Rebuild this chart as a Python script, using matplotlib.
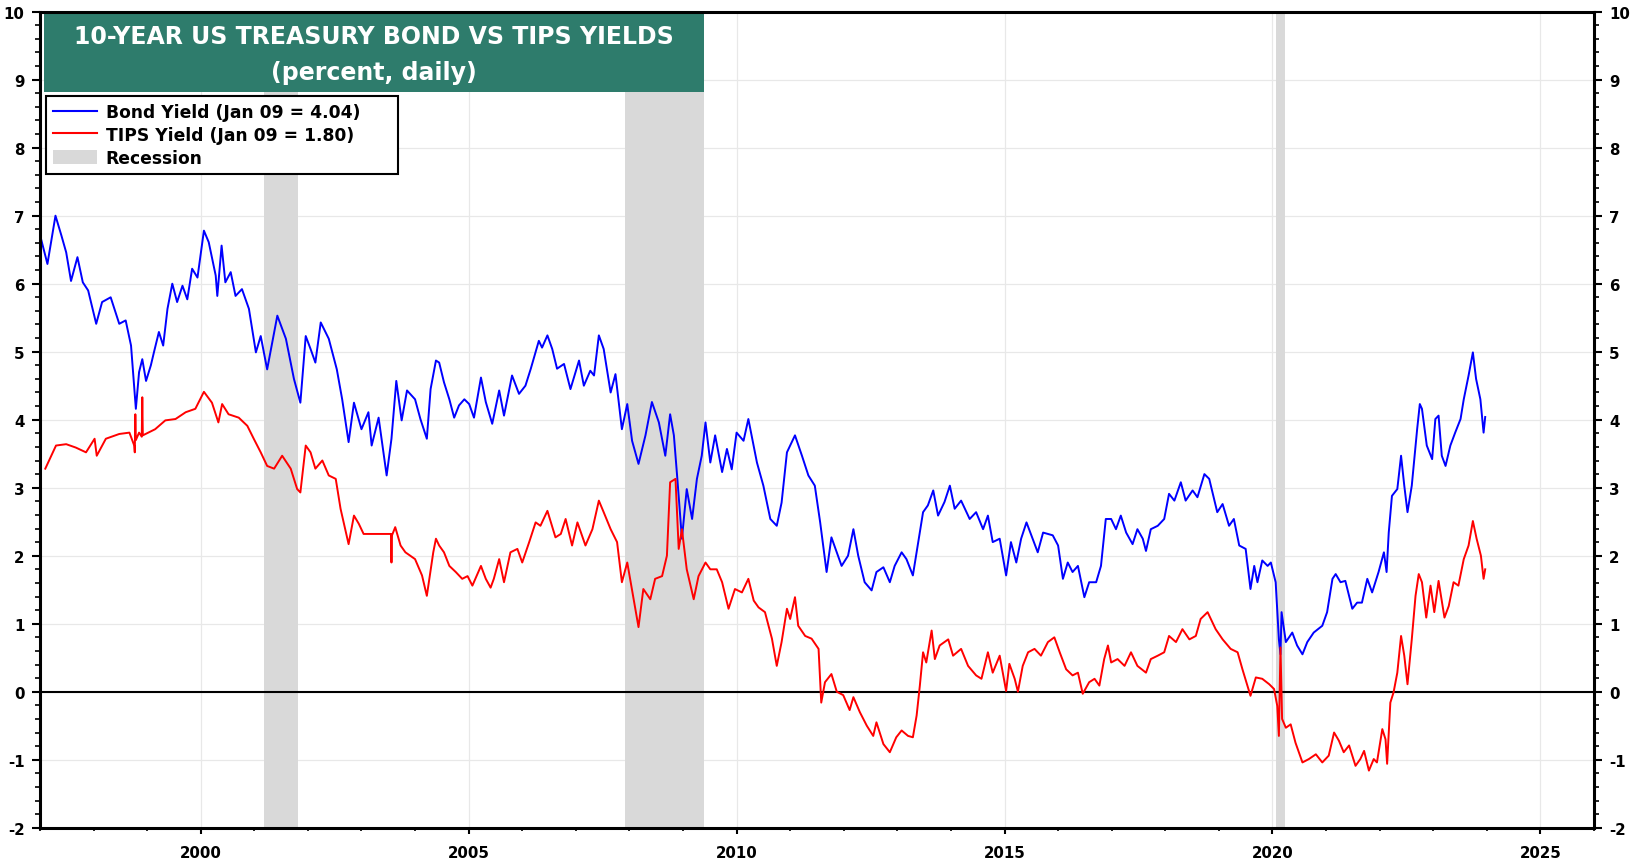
import matplotlib
matplotlib.use('Agg')
import matplotlib.pyplot as plt
from matplotlib.patches import Rectangle, Patch
from matplotlib.lines import Line2D
from matplotlib.ticker import FixedLocator, MultipleLocator

plt.rcParams['font.family'] = ['DejaVu Sans']
plt.rcParams['font.weight'] = 'bold'
plt.rcParams['axes.unicode_minus'] = False

# 10-year bond yield (decimal year, percent)
bond_years = [
    1997.02, 1997.14, 1997.29, 1997.40, 1997.49, 1997.58, 1997.70, 1997.80, 1997.90, 1998.05,
    1998.16, 1998.32, 1998.48, 1998.60, 1998.70, 1998.79, 1998.85, 1998.91, 1998.98, 1999.07,
    1999.13, 1999.22, 1999.30, 1999.38, 1999.47, 1999.56, 1999.66, 1999.75, 1999.84, 1999.94,
    2000.06, 2000.15, 2000.28, 2000.31, 2000.39, 2000.46, 2000.56, 2000.65, 2000.77, 2000.90,
    2001.03, 2001.12, 2001.24, 2001.43, 2001.59, 2001.74, 2001.86, 2001.96, 2002.05, 2002.14,
    2002.24, 2002.39, 2002.54, 2002.64, 2002.76, 2002.86, 2003.00, 2003.13, 2003.19, 2003.32,
    2003.47, 2003.56, 2003.65, 2003.75, 2003.85, 2004.00, 2004.10, 2004.22, 2004.29, 2004.39,
    2004.45, 2004.54, 2004.64, 2004.73, 2004.82, 2004.92, 2005.01, 2005.10, 2005.23, 2005.32,
    2005.44, 2005.57, 2005.66, 2005.81, 2005.94, 2006.06, 2006.16, 2006.31, 2006.37, 2006.47,
    2006.56, 2006.65, 2006.78, 2006.90, 2007.06, 2007.15, 2007.27, 2007.34, 2007.43, 2007.52,
    2007.65, 2007.74, 2007.86, 2007.96, 2008.05, 2008.17, 2008.30, 2008.42, 2008.55, 2008.67,
    2008.76, 2008.83, 2008.89, 2008.98, 2009.07, 2009.17, 2009.26, 2009.35, 2009.42, 2009.51,
    2009.60, 2009.73, 2009.82, 2009.91, 2010.00, 2010.13, 2010.22, 2010.38, 2010.50, 2010.63,
    2010.75, 2010.84, 2010.94, 2011.09, 2011.22, 2011.34, 2011.46, 2011.56, 2011.68, 2011.77,
    2011.87, 2011.96, 2012.08, 2012.18, 2012.27, 2012.39, 2012.52, 2012.61, 2012.74, 2012.86,
    2012.95, 2013.08, 2013.17, 2013.29, 2013.39, 2013.48, 2013.57, 2013.67, 2013.76, 2013.88,
    2013.98, 2014.07, 2014.19, 2014.35, 2014.47, 2014.60, 2014.69, 2014.78, 2014.91, 2015.03,
    2015.12, 2015.22, 2015.31, 2015.41, 2015.50, 2015.62, 2015.72, 2015.81, 2015.90, 2016.00,
    2016.09, 2016.18, 2016.27, 2016.37, 2016.49, 2016.58, 2016.71, 2016.80, 2016.89, 2016.99,
    2017.08, 2017.17, 2017.27, 2017.39, 2017.48, 2017.58, 2017.64, 2017.73, 2017.86, 2017.98,
    2018.07, 2018.17, 2018.29, 2018.38, 2018.51, 2018.60, 2018.73, 2018.82, 2018.97, 2019.07,
    2019.19, 2019.28, 2019.38, 2019.50, 2019.59, 2019.66, 2019.72, 2019.81, 2019.91, 2019.97,
    2020.06, 2020.12, 2020.15, 2020.17, 2020.25, 2020.37, 2020.46, 2020.56, 2020.65, 2020.77,
    2020.93, 2021.02, 2021.12, 2021.18, 2021.27, 2021.36, 2021.49, 2021.58, 2021.67, 2021.77,
    2021.86, 2021.92, 2021.98, 2022.08, 2022.13, 2022.17, 2022.23, 2022.33, 2022.40, 2022.46,
    2022.52, 2022.60, 2022.70, 2022.75, 2022.79, 2022.88, 2022.98, 2023.04, 2023.10, 2023.16,
    2023.23, 2023.32, 2023.41, 2023.51, 2023.57, 2023.66, 2023.74, 2023.80, 2023.88, 2023.94,
    2023.97,
]
bond_yield = [
    6.66, 6.29, 7.00, 6.71, 6.46, 6.04, 6.39, 6.02, 5.90, 5.41,
    5.73, 5.80, 5.41, 5.46, 5.09, 4.16, 4.70, 4.89, 4.57, 4.80,
    5.00, 5.29, 5.09, 5.63, 6.00, 5.73, 5.97, 5.77, 6.22, 6.09,
    6.78, 6.61, 6.12, 5.82, 6.56, 6.02, 6.17, 5.82, 5.92, 5.63,
    4.99, 5.23, 4.74, 5.53, 5.19, 4.60, 4.25, 5.23, 5.04, 4.84,
    5.43, 5.19, 4.74, 4.30, 3.67, 4.25, 3.86, 4.11, 3.62, 4.03,
    3.18, 3.72, 4.57, 3.99, 4.43, 4.30, 4.01, 3.72, 4.45, 4.87,
    4.84, 4.55, 4.30, 4.03, 4.21, 4.30, 4.23, 4.03, 4.62, 4.26,
    3.94, 4.43, 4.06, 4.65, 4.38, 4.50, 4.75, 5.16, 5.06, 5.24,
    5.04, 4.75, 4.82, 4.45, 4.87, 4.50, 4.72, 4.65, 5.24, 5.04,
    4.40, 4.67, 3.86, 4.23, 3.69, 3.35, 3.77, 4.26, 3.96, 3.47,
    4.08, 3.77, 3.18, 2.25, 2.98, 2.54, 3.13, 3.47, 3.96, 3.37,
    3.77, 3.23, 3.57, 3.27, 3.81, 3.69, 4.01, 3.37, 3.03, 2.54,
    2.44, 2.78, 3.52, 3.77, 3.47, 3.18, 3.03, 2.49, 1.76, 2.27,
    2.05, 1.85, 2.00, 2.39, 2.00, 1.61, 1.49, 1.76, 1.83, 1.61,
    1.85, 2.05, 1.95, 1.71, 2.20, 2.64, 2.74, 2.96, 2.59, 2.79,
    3.03, 2.69, 2.81, 2.54, 2.64, 2.39, 2.59, 2.20, 2.25, 1.71,
    2.20, 1.90, 2.25, 2.49, 2.30, 2.05, 2.34, 2.32, 2.30, 2.15,
    1.66, 1.90, 1.76, 1.85, 1.39, 1.61, 1.61, 1.85, 2.54, 2.54,
    2.39, 2.59, 2.34, 2.17, 2.39, 2.25, 2.07, 2.39, 2.44, 2.54,
    2.91, 2.81, 3.08, 2.81, 2.96, 2.86, 3.20, 3.13, 2.64, 2.76,
    2.44, 2.54, 2.15, 2.10, 1.51, 1.85, 1.61, 1.93, 1.85, 1.90,
    1.61, 0.77, 0.55, 1.17, 0.73, 0.87, 0.68, 0.55, 0.73, 0.87,
    0.97, 1.17, 1.66, 1.73, 1.61, 1.63, 1.22, 1.31, 1.31, 1.66,
    1.46, 1.61, 1.76, 2.05, 1.76, 2.34, 2.88, 2.98, 3.47, 3.03,
    2.64, 3.03, 3.86, 4.23, 4.16, 3.62, 3.42, 4.01, 4.06, 3.47,
    3.32, 3.62, 3.81, 4.01, 4.30, 4.65, 4.99, 4.60, 4.30, 3.81,
    4.04,
]

# 10-year TIPS yield (decimal year, percent)
tips_years = [
    1997.10, 1997.30, 1997.49, 1997.67, 1997.86, 1998.02, 1998.06, 1998.23, 1998.48, 1998.67,
    1998.76, 1998.77, 1998.78, 1998.79, 1998.85, 1998.90, 1998.91, 1998.92, 1999.15, 1999.34,
    1999.53, 1999.72, 1999.90, 2000.06, 2000.21, 2000.33, 2000.40, 2000.52, 2000.71, 2000.87,
    2000.99, 2001.12, 2001.24, 2001.37, 2001.52, 2001.68, 2001.80, 2001.86, 2001.96, 2002.05,
    2002.14, 2002.27, 2002.39, 2002.52, 2002.61, 2002.76, 2002.86, 2002.95, 2003.04, 2003.55,
    2003.56, 2003.57, 2003.63, 2003.73, 2003.82, 2004.00, 2004.13, 2004.22, 2004.34, 2004.39,
    2004.45, 2004.54, 2004.64, 2004.76, 2004.88, 2004.98, 2005.07, 2005.23, 2005.32, 2005.41,
    2005.47, 2005.57, 2005.66, 2005.78, 2005.91, 2006.00, 2006.13, 2006.25, 2006.34, 2006.47,
    2006.62, 2006.72, 2006.81, 2006.93, 2007.03, 2007.18, 2007.31, 2007.43, 2007.52, 2007.65,
    2007.77, 2007.86, 2007.96, 2008.08, 2008.17, 2008.26, 2008.39, 2008.48, 2008.61, 2008.70,
    2008.76, 2008.86, 2008.92, 2008.98, 2009.07, 2009.20, 2009.29, 2009.42, 2009.51, 2009.63,
    2009.73, 2009.85, 2009.97, 2010.10, 2010.22, 2010.32, 2010.41, 2010.53, 2010.66, 2010.75,
    2010.84, 2010.94, 2011.00, 2011.09, 2011.15, 2011.28, 2011.40, 2011.53, 2011.58, 2011.65,
    2011.77, 2011.87, 2011.99, 2012.11, 2012.18, 2012.30, 2012.43, 2012.55, 2012.61, 2012.74,
    2012.86, 2012.98, 2013.08, 2013.20, 2013.29, 2013.36, 2013.42, 2013.48, 2013.54, 2013.64,
    2013.70, 2013.79, 2013.95, 2014.04, 2014.19, 2014.32, 2014.47, 2014.57, 2014.69, 2014.78,
    2014.91, 2015.03, 2015.09, 2015.19, 2015.25, 2015.34, 2015.44, 2015.56, 2015.68, 2015.81,
    2015.93, 2016.03, 2016.15, 2016.27, 2016.37, 2016.46, 2016.58, 2016.68, 2016.77, 2016.86,
    2016.93, 2016.99, 2017.11, 2017.24, 2017.36, 2017.48, 2017.64, 2017.73, 2017.86, 2017.98,
    2018.07, 2018.20, 2018.32, 2018.45, 2018.57, 2018.66, 2018.79, 2018.88, 2018.94, 2019.07,
    2019.22, 2019.35, 2019.44, 2019.59, 2019.69, 2019.81, 2019.94, 2020.03, 2020.09, 2020.12,
    2020.15, 2020.18, 2020.25, 2020.34, 2020.43, 2020.56, 2020.68, 2020.81, 2020.93, 2021.05,
    2021.15, 2021.24, 2021.33, 2021.43, 2021.55, 2021.64, 2021.71, 2021.80, 2021.89, 2021.95,
    2022.05, 2022.11, 2022.14, 2022.20, 2022.26, 2022.33, 2022.40, 2022.46, 2022.52, 2022.60,
    2022.67, 2022.73, 2022.79, 2022.87, 2022.95, 2023.02, 2023.10, 2023.21, 2023.29, 2023.38,
    2023.47, 2023.57, 2023.66, 2023.74, 2023.81, 2023.89, 2023.94, 2023.97,
]
tips_yield = [
    3.28, 3.62, 3.64, 3.59, 3.52, 3.72, 3.47, 3.72, 3.79, 3.81,
    3.62, 3.52, 4.08, 3.70, 3.81, 3.75, 4.33, 3.77, 3.86, 3.99,
    4.01, 4.11, 4.16, 4.41, 4.25, 3.96, 4.23, 4.08, 4.03, 3.91,
    3.72, 3.52, 3.32, 3.28, 3.47, 3.28, 2.98, 2.93, 3.62, 3.52,
    3.28, 3.40, 3.18, 3.13, 2.69, 2.17, 2.59, 2.47, 2.32, 2.32,
    1.90, 2.30, 2.42, 2.15, 2.05, 1.95, 1.71, 1.41, 2.05, 2.25,
    2.15, 2.05, 1.85, 1.76, 1.66, 1.70, 1.56, 1.85, 1.66, 1.53,
    1.66, 1.95, 1.61, 2.05, 2.10, 1.90, 2.20, 2.49, 2.44, 2.66,
    2.27, 2.32, 2.54, 2.15, 2.49, 2.15, 2.39, 2.81, 2.64, 2.39,
    2.20, 1.61, 1.90, 1.36, 0.95, 1.51, 1.36, 1.66, 1.70, 2.00,
    3.08, 3.13, 2.10, 2.39, 1.80, 1.36, 1.70, 1.90, 1.80, 1.80,
    1.61, 1.22, 1.51, 1.46, 1.66, 1.34, 1.24, 1.17, 0.78, 0.38,
    0.73, 1.22, 1.07, 1.39, 0.97, 0.82, 0.78, 0.63, -0.16, 0.14,
    0.26, 0.00, -0.05, -0.27, -0.08, -0.30, -0.50, -0.65, -0.45, -0.77,
    -0.89, -0.67, -0.57, -0.65, -0.67, -0.35, 0.09, 0.58, 0.43, 0.90,
    0.48, 0.68, 0.77, 0.53, 0.63, 0.38, 0.24, 0.19, 0.58, 0.28,
    0.53, 0.01, 0.41, 0.19, 0.00, 0.38, 0.58, 0.63, 0.53, 0.73,
    0.80, 0.58, 0.33, 0.24, 0.28, -0.03, 0.14, 0.19, 0.09, 0.48,
    0.68, 0.43, 0.48, 0.38, 0.58, 0.38, 0.28, 0.48, 0.53, 0.58,
    0.82, 0.73, 0.92, 0.77, 0.82, 1.07, 1.17, 1.02, 0.92, 0.77,
    0.63, 0.58, 0.33, -0.06, 0.21, 0.19, 0.11, 0.04, -0.21, -0.65,
    0.65, -0.40, -0.53, -0.48, -0.75, -1.04, -0.99, -0.92, -1.04, -0.94,
    -0.60, -0.72, -0.89, -0.79, -1.09, -0.99, -0.87, -1.16, -0.99, -1.04,
    -0.55, -0.70, -1.06, -0.16, -0.01, 0.28, 0.82, 0.53, 0.11, 0.77,
    1.41, 1.73, 1.61, 1.09, 1.56, 1.17, 1.63, 1.09, 1.26, 1.61,
    1.56, 1.95, 2.15, 2.51, 2.25, 2.00, 1.66, 1.80,
]

# recession periods (start, end) in decimal years
rec_start = [2001.18, 2007.92, 2020.07]
rec_end = [2001.82, 2009.40, 2020.24]

year_ticks = [2000, 2005, 2010, 2015, 2020, 2025]
yield_ticks = list(range(-2, 11))

bond_label = 'Bond Yield (Jan 09 = 4.04)'
tips_label = 'TIPS Yield (Jan 09 = 1.80)'
title_lines = ['10-YEAR US TREASURY BOND VS TIPS YIELDS', '(percent, daily)']

rec_color = '#d9d9d9'
box_color = '#2e7c6c'

fig = plt.figure(figsize=(16.3, 8.62), dpi=100)
ax = fig.add_axes([0.0245, 0.0386, 0.9534, 0.9467])

# gridlines
for yv in yield_ticks:
    ax.axhline(yv, color='#e8e8e8', lw=0.9, zorder=0)
for xv in year_ticks:
    ax.axvline(xv, color='#e8e8e8', lw=0.9, zorder=0)

for s, e in zip(rec_start, rec_end):
    ax.axvspan(s, e, color=rec_color, lw=0, zorder=1)

ax.axhline(0, color='black', lw=1.5, zorder=2)
ax.plot(bond_years, bond_yield, color='#0000ff', lw=1.4, zorder=3)
ax.plot(tips_years, tips_yield, color='#ff0000', lw=1.4, zorder=3)

ax.set_xlim(1997.0, 2026.0)
ax.set_ylim(-2, 10)

ax.xaxis.set_major_locator(FixedLocator(year_ticks))
ax.xaxis.set_minor_locator(MultipleLocator(1))
ax.set_xticklabels([str(y) for y in year_ticks])
ax.yaxis.set_major_locator(FixedLocator(yield_ticks))
ax.yaxis.set_minor_locator(MultipleLocator(0.2))

ax.tick_params(axis='both', which='major', labelsize=10.8, width=1.5, direction='out')
ax.tick_params(axis='both', which='minor', width=1.2, direction='out')
ax.tick_params(axis='y', which='major', length=6)
ax.tick_params(axis='y', which='minor', length=3.5)
ax.tick_params(axis='x', which='major', length=4.5)
ax.tick_params(axis='x', which='minor', length=2.5)
ax.tick_params(axis='y', which='both', left=True, right=True, labelleft=True, labelright=True, pad=5)
ax.tick_params(axis='x', which='both', top=False, pad=8)
for t in ax.yaxis.get_major_ticks() + ax.xaxis.get_major_ticks():
    t.label1.set_fontweight('bold')
    t.label2.set_fontweight('bold')

for sp in ax.spines.values():
    sp.set_linewidth(2.2)
    sp.set_zorder(6)

# title box
ax.add_patch(Rectangle((0.0026, 0.9016), 0.4247, 0.0984, transform=ax.transAxes,
                       facecolor=box_color, edgecolor='none', zorder=4))
ax.text(0.215, 0.9706, title_lines[0], transform=ax.transAxes, ha='center', va='center',
        color='white', fontsize=17, fontweight='bold', zorder=5)
ax.text(0.215, 0.926, title_lines[1], transform=ax.transAxes, ha='center', va='center',
        color='white', fontsize=17, fontweight='bold', zorder=5)

handles = [Line2D([], [], color='#0000ff', lw=1.5),
           Line2D([], [], color='#ff0000', lw=1.5),
           Patch(facecolor=rec_color, edgecolor='none')]
leg = ax.legend(handles, [bond_label, tips_label, 'Recession'], loc='upper left',
                bbox_to_anchor=(0.0037, 0.7900, 0.2267, 0.1067), mode='expand',
                borderaxespad=0, prop={'weight': 'bold', 'size': 12.3}, frameon=True,
                fancybox=False, handlelength=2.6, handleheight=0.9, handletextpad=0.5,
                labelspacing=0.28, borderpad=0.42)
leg.get_frame().set_edgecolor('black')
leg.get_frame().set_linewidth(1.5)
leg.get_frame().set_alpha(1)
leg.set_zorder(7)

fig.savefig('out.png', dpi=100)
